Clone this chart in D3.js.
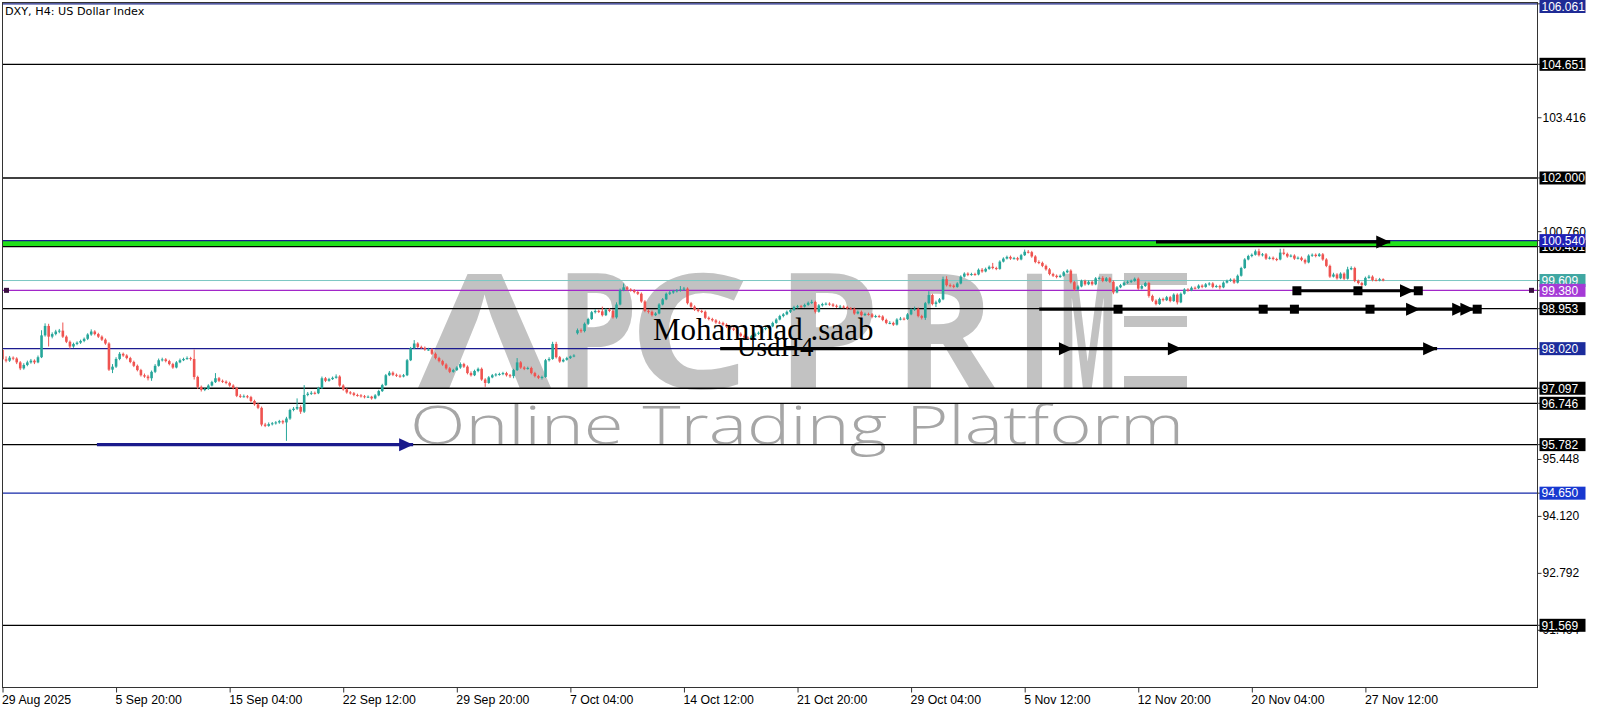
<!DOCTYPE html>
<html><head><meta charset="utf-8">
<script src="https://cdn.jsdelivr.net/npm/d3@7"></script>
<style>body{margin:0;background:#fff;overflow:hidden}svg{display:block}</style>
</head><body>
<svg id="chart" width="1600" height="711"></svg>
<script>
// ---------- DATA ----------
const candles = [
[97.99,98.14,97.72,97.77],[97.77,97.84,97.70,97.74],[97.74,97.85,97.71,97.81],[97.81,97.84,97.75,97.79],[97.79,97.82,97.66,97.70],
[97.70,97.73,97.52,97.56],[97.56,97.68,97.53,97.64],[97.64,97.74,97.61,97.70],[97.70,97.78,97.67,97.74],[97.74,97.77,97.66,97.70],
[97.70,97.86,97.68,97.82],[97.82,98.45,97.80,98.33],[98.33,98.61,98.30,98.55],[98.55,98.60,98.07,98.30],[98.30,98.40,98.26,98.36],
[98.36,98.46,98.33,98.42],[98.42,98.48,98.38,98.44],[98.44,98.63,98.27,98.30],[98.30,98.33,98.15,98.18],[98.18,98.21,98.02,98.07],
[98.07,98.16,98.04,98.13],[98.13,98.19,98.10,98.16],[98.16,98.23,98.13,98.20],[98.20,98.28,98.17,98.25],[98.25,98.38,98.22,98.35],
[98.35,98.47,98.32,98.42],[98.42,98.45,98.33,98.36],[98.36,98.39,98.27,98.30],[98.30,98.33,98.20,98.23],[98.23,98.26,98.11,98.14],
[98.14,98.17,97.50,97.53],[97.53,97.66,97.45,97.60],[97.60,97.82,97.57,97.78],[97.78,97.94,97.75,97.90],[97.90,97.93,97.83,97.86],
[97.86,97.89,97.77,97.80],[97.80,97.83,97.68,97.71],[97.71,97.74,97.59,97.62],[97.62,97.65,97.49,97.52],[97.52,97.55,97.37,97.40],
[97.40,97.44,97.34,97.37],[97.37,97.41,97.28,97.33],[97.33,97.51,97.27,97.48],[97.48,97.66,97.45,97.62],[97.62,97.79,97.60,97.75],
[97.75,97.81,97.72,97.77],[97.77,97.80,97.70,97.73],[97.73,97.76,97.63,97.66],[97.66,97.69,97.55,97.58],[97.58,97.73,97.56,97.70],
[97.70,97.79,97.68,97.75],[97.75,97.81,97.73,97.78],[97.78,97.84,97.76,97.80],[97.80,97.83,97.74,97.78],[97.78,98.00,97.30,97.36],
[97.36,97.39,97.08,97.13],[97.13,97.16,97.02,97.06],[97.06,97.11,97.03,97.08],[97.08,97.19,97.06,97.16],[97.16,97.27,97.14,97.24],
[97.24,97.45,97.22,97.33],[97.33,97.36,97.24,97.27],[97.27,97.30,97.22,97.25],[97.25,97.28,97.19,97.22],[97.22,97.25,97.13,97.16],
[97.16,97.19,97.07,97.10],[97.10,97.13,96.89,96.92],[96.92,96.96,96.87,96.90],[96.90,96.95,96.88,96.91],[96.91,96.94,96.86,96.89],
[96.89,96.92,96.77,96.80],[96.80,96.83,96.69,96.72],[96.72,96.75,96.61,96.64],[96.64,96.67,96.21,96.25],[96.25,96.29,96.19,96.22],
[96.22,96.30,96.20,96.26],[96.26,96.31,96.23,96.28],[96.28,96.33,96.25,96.30],[96.30,96.36,96.27,96.33],[96.33,96.36,96.26,96.30],
[96.30,96.43,95.87,96.39],[96.39,96.62,96.36,96.59],[96.59,96.66,96.56,96.62],[96.62,96.86,96.59,96.66],[96.66,96.70,96.50,96.55],
[96.55,97.17,96.52,96.94],[96.94,97.01,96.91,96.97],[96.97,97.03,96.94,96.99],[96.99,97.02,96.95,96.98],[96.98,97.13,96.96,97.10],
[97.10,97.37,97.08,97.33],[97.33,97.36,97.24,97.27],[97.27,97.34,97.25,97.31],[97.31,97.37,97.29,97.34],[97.34,97.42,97.32,97.37],
[97.37,97.40,97.13,97.16],[97.16,97.19,97.04,97.07],[97.07,97.10,96.97,97.00],[97.00,97.03,96.95,96.98],[96.98,97.01,96.91,96.94],
[96.94,96.97,96.90,96.93],[96.93,96.96,96.88,96.91],[96.91,96.94,96.86,96.89],[96.89,96.93,96.87,96.90],[96.90,96.92,96.83,96.86],
[96.86,96.96,96.84,96.93],[96.93,97.06,96.91,97.03],[97.03,97.20,97.01,97.17],[97.17,97.43,97.15,97.40],[97.40,97.50,97.38,97.46],
[97.46,97.49,97.38,97.41],[97.41,97.44,97.36,97.39],[97.39,97.42,97.34,97.37],[97.37,97.43,97.35,97.40],[97.40,97.78,97.38,97.75],
[97.75,98.06,97.73,98.03],[98.03,98.22,98.01,98.14],[98.14,98.17,98.03,98.06],[98.06,98.09,98.01,98.04],[98.04,98.07,97.97,98.00],
[98.00,98.04,97.97,98.00],[98.00,98.03,97.87,97.90],[97.90,97.93,97.77,97.80],[97.80,97.83,97.70,97.73],[97.73,97.76,97.62,97.65],
[97.65,97.68,97.53,97.56],[97.56,97.59,97.45,97.48],[97.48,97.55,97.46,97.52],[97.52,97.61,97.50,97.58],[97.58,97.70,97.55,97.66],
[97.66,97.69,97.57,97.60],[97.60,97.63,97.42,97.45],[97.45,97.49,97.37,97.40],[97.40,97.53,97.38,97.50],[97.50,97.58,97.47,97.55],
[97.55,97.58,97.27,97.30],[97.30,97.33,97.13,97.22],[97.22,97.38,97.20,97.35],[97.35,97.43,97.33,97.40],[97.40,97.45,97.37,97.42],
[97.42,97.46,97.39,97.43],[97.43,97.48,97.40,97.45],[97.45,97.48,97.37,97.40],[97.40,97.43,97.34,97.38],[97.38,97.55,97.33,97.52],
[97.52,97.80,97.50,97.70],[97.70,97.73,97.55,97.58],[97.58,97.61,97.52,97.55],[97.55,97.60,97.53,97.57],[97.57,97.60,97.42,97.45],
[97.45,97.48,97.35,97.38],[97.38,97.41,97.31,97.34],[97.34,97.39,97.30,97.36],[97.36,97.78,97.34,97.75],[97.75,97.82,97.72,97.78],
[97.78,98.18,97.76,98.13],[98.13,98.18,97.79,97.82],[97.82,97.85,97.69,97.72],[97.72,97.79,97.70,97.76],[97.76,97.83,97.74,97.80],
[97.80,97.86,97.78,97.84],[97.84,97.89,97.82,97.86],[98.38,98.49,98.35,98.45],[98.45,98.49,98.39,98.43],[98.43,98.63,98.40,98.60],
[98.60,98.74,98.57,98.71],[98.71,98.90,98.69,98.87],[98.87,98.94,98.84,98.90],[98.90,98.93,98.85,98.89],[98.89,99.00,98.77,98.80],
[98.80,98.96,98.78,98.93],[98.93,98.96,98.87,98.90],[98.90,98.93,98.72,98.75],[98.75,99.10,98.72,99.05],[99.05,99.42,99.03,99.38],
[99.38,99.54,99.36,99.45],[99.45,99.48,99.37,99.40],[99.40,99.43,99.35,99.38],[99.38,99.41,99.31,99.34],[99.34,99.37,99.27,99.30],
[99.30,99.33,99.09,99.12],[99.12,99.15,98.87,98.90],[98.90,98.94,98.84,98.88],[98.88,98.91,98.77,98.80],[98.80,98.87,98.78,98.84],
[98.84,99.08,98.82,99.05],[99.05,99.20,99.03,99.17],[99.17,99.33,99.15,99.30],[99.30,99.37,99.27,99.33],[99.33,99.39,99.30,99.36],
[99.36,99.41,99.33,99.38],[99.38,99.48,99.35,99.40],[99.40,99.46,99.37,99.42],[99.42,99.45,99.05,99.08],[99.08,99.11,98.97,99.00],
[99.00,99.03,98.90,98.93],[98.93,98.96,98.87,98.90],[98.90,98.93,98.85,98.88],[98.88,98.91,98.71,98.74],[98.74,98.77,98.68,98.71],
[98.71,98.74,98.65,98.68],[98.68,98.71,98.60,98.63],[98.63,98.67,98.59,98.62],[98.62,98.65,98.55,98.58],[98.58,98.61,98.50,98.53],
[98.53,98.56,98.46,98.49],[98.49,98.52,98.43,98.46],[98.46,98.49,98.34,98.37],[98.37,98.40,98.29,98.32],[98.32,98.35,98.25,98.28],
[98.28,98.31,98.22,98.25],[98.25,98.34,98.23,98.31],[98.31,98.40,98.29,98.37],[98.37,98.42,98.34,98.39],[98.39,98.51,98.37,98.48],
[98.48,98.53,98.45,98.50],[98.50,98.57,98.48,98.54],[98.54,98.65,98.52,98.62],[98.62,98.73,98.60,98.70],[98.70,98.81,98.68,98.78],
[98.78,98.85,98.75,98.82],[98.82,98.91,98.80,98.88],[98.88,98.95,98.85,98.92],[98.92,99.02,98.90,98.99],[98.99,99.04,98.96,99.01],
[99.01,99.04,98.97,99.00],[99.00,99.07,98.98,99.04],[99.04,99.12,99.02,99.09],[99.09,99.16,99.06,99.11],[99.11,99.14,98.84,98.88],
[98.88,99.06,98.86,99.03],[99.03,99.09,99.00,99.06],[99.06,99.10,99.03,99.07],[99.07,99.10,99.02,99.05],[99.05,99.08,98.99,99.02],
[99.02,99.05,98.97,99.00],[99.00,99.04,98.97,99.00],[99.00,99.03,98.96,98.99],[98.99,99.02,98.93,98.96],[98.96,98.99,98.92,98.95],
[98.95,98.98,98.81,98.84],[98.84,98.91,98.82,98.88],[98.88,98.91,98.77,98.80],[98.80,98.86,98.78,98.83],[98.83,98.86,98.79,98.82],
[98.82,98.85,98.73,98.76],[98.76,98.81,98.74,98.78],[98.78,98.81,98.74,98.77],[98.77,98.80,98.66,98.69],[98.69,98.72,98.59,98.62],
[98.62,98.66,98.59,98.62],[98.62,98.65,98.55,98.58],[98.58,98.73,98.56,98.70],[98.70,98.76,98.68,98.72],[98.72,98.75,98.68,98.71],
[98.71,98.85,98.69,98.82],[98.82,98.96,98.80,98.93],[98.93,99.00,98.90,98.95],[98.95,98.98,98.75,98.78],[98.78,98.81,98.70,98.74],
[98.74,99.11,98.69,99.08],[99.08,99.36,99.05,99.27],[99.27,99.30,99.03,99.06],[99.06,99.14,98.99,99.10],[99.10,99.20,99.08,99.17],
[99.17,99.70,99.15,99.64],[99.64,99.71,99.47,99.50],[99.50,99.54,99.45,99.49],[99.49,99.52,99.43,99.46],[99.46,99.57,99.44,99.54],
[99.54,99.73,99.52,99.70],[99.70,99.80,99.68,99.77],[99.77,99.80,99.71,99.74],[99.74,99.79,99.72,99.76],[99.76,99.79,99.72,99.75],
[99.75,99.89,99.73,99.86],[99.86,99.90,99.79,99.82],[99.82,99.91,99.80,99.88],[99.88,99.96,99.86,99.93],[99.93,100.02,99.87,99.90],
[99.90,99.93,99.85,99.88],[99.88,100.08,99.86,100.05],[100.05,100.15,100.03,100.12],[100.12,100.19,100.10,100.16],[100.16,100.19,100.09,100.12],
[100.12,100.16,100.10,100.13],[100.13,100.16,100.07,100.10],[100.10,100.23,100.08,100.20],[100.20,100.33,100.18,100.28],[100.28,100.32,100.24,100.27],
[100.27,100.30,100.14,100.17],[100.17,100.20,100.01,100.04],[100.04,100.08,99.99,100.02],[100.02,100.05,99.92,99.95],[99.95,99.98,99.84,99.87],
[99.87,99.90,99.73,99.76],[99.76,99.79,99.69,99.72],[99.72,99.75,99.66,99.69],[99.69,99.75,99.67,99.72],[99.72,99.83,99.70,99.80],
[99.80,99.87,99.78,99.84],[99.84,99.87,99.54,99.57],[99.57,99.60,99.37,99.40],[99.40,99.50,99.38,99.47],[99.47,99.63,99.45,99.60],
[99.60,99.63,99.49,99.52],[99.52,99.61,99.50,99.58],[99.58,99.61,99.49,99.52],[99.52,99.69,99.50,99.66],[99.66,99.70,99.63,99.67],
[99.67,99.71,99.57,99.60],[99.60,99.69,99.58,99.66],[99.66,99.69,99.55,99.58],[99.58,99.61,99.29,99.33],[99.33,99.48,99.31,99.45],
[99.45,99.53,99.43,99.50],[99.50,99.59,99.48,99.56],[99.56,99.61,99.53,99.58],[99.58,99.63,99.55,99.60],[99.60,99.68,99.58,99.65],
[99.65,99.68,99.39,99.42],[99.42,99.51,99.40,99.48],[99.48,99.58,99.46,99.55],[99.55,99.58,99.21,99.25],[99.25,99.28,99.11,99.14],
[99.14,99.17,99.03,99.06],[99.06,99.21,99.04,99.18],[99.18,99.21,99.12,99.15],[99.15,99.25,99.13,99.22],[99.22,99.25,99.10,99.13],
[99.13,99.31,99.11,99.28],[99.28,99.31,99.05,99.10],[99.10,99.33,99.08,99.30],[99.30,99.43,99.28,99.40],[99.40,99.43,99.35,99.38],
[99.38,99.47,99.36,99.44],[99.44,99.47,99.40,99.43],[99.43,99.52,99.41,99.49],[99.49,99.52,99.43,99.46],[99.46,99.55,99.44,99.52],
[99.52,99.57,99.49,99.54],[99.54,99.57,99.43,99.46],[99.46,99.51,99.44,99.48],[99.48,99.51,99.40,99.45],[99.45,99.59,99.43,99.56],
[99.56,99.63,99.54,99.60],[99.60,99.66,99.58,99.63],[99.63,99.66,99.53,99.56],[99.56,99.75,99.54,99.72],[99.72,99.93,99.70,99.90],
[99.90,100.13,99.88,100.10],[100.10,100.21,100.08,100.18],[100.18,100.24,100.15,100.21],[100.21,100.33,100.19,100.29],[100.29,100.35,100.17,100.20],
[100.20,100.25,100.17,100.22],[100.22,100.25,100.09,100.12],[100.12,100.17,100.10,100.14],[100.14,100.17,100.08,100.11],[100.11,100.14,100.06,100.10],
[100.10,100.35,100.08,100.26],[100.26,100.35,100.20,100.23],[100.23,100.26,100.14,100.17],[100.17,100.22,100.15,100.19],[100.19,100.22,100.09,100.12],
[100.12,100.17,100.10,100.14],[100.14,100.17,100.06,100.09],[100.09,100.12,99.99,100.03],[100.03,100.22,100.01,100.19],[100.19,100.24,100.16,100.21],
[100.21,100.24,100.15,100.18],[100.18,100.25,100.16,100.22],[100.22,100.25,100.07,100.10],[100.10,100.13,99.92,99.95],[99.95,99.98,99.67,99.70],
[99.70,99.79,99.68,99.75],[99.75,99.78,99.63,99.66],[99.66,99.80,99.64,99.77],[99.77,99.80,99.62,99.65],[99.65,99.93,99.63,99.87],
[99.87,99.94,99.85,99.90],[99.90,99.93,99.57,99.60],[99.60,99.63,99.52,99.55],[99.55,99.58,99.47,99.50],[99.50,99.70,99.48,99.67],
[99.67,99.74,99.65,99.70],[99.70,99.73,99.59,99.62],[99.62,99.66,99.59,99.61],[99.61,99.67,99.59,99.64],[99.64,99.66,99.59,99.61]
];

const timeTickBars   = [0, 32, 64, 96, 128, 160, 192, 224, 256, 288, 320, 352, 384];
const timeTickLabels = ["29 Aug 2025","5 Sep 20:00","15 Sep 04:00","22 Sep 12:00","29 Sep 20:00","7 Oct 04:00",
  "14 Oct 12:00","21 Oct 20:00","29 Oct 04:00","5 Nov 12:00","12 Nov 20:00","20 Nov 04:00","27 Nov 12:00"];

const priceTicks = [103.416, 100.760, 95.448, 94.120, 92.792, 91.464];

// horizontal levels: price, line colour, label background
const levelPrices = [106.061, 104.651, 102.000, 100.401, 100.540, 99.609, 99.380, 98.953, 98.020, 97.097, 96.746, 95.782, 94.650, 91.569];
const levelColors = ["#1b2483","#000000","#000000","#000000","#1b1b8f","#7cc8c4","#a227c9","#000000","#1b1b8f","#000000","#000000","#000000","#1428a8","#000000"];
const levelLabelBg = ["#1f2b95","#000000","#000000","#000000","#2121b5","#3fa7a2","#a53ad6","#000000","#1c2c9c","#000000","#000000","#000000","#1838d0","#000000"];
const levelWidths = [1.3,1.3,1.3,1.3,1.3,1,1.4,1.3,1.3,1.3,1.3,1.3,1.3,1.3];

// green zone between two prices
const zoneTop = 100.540, zoneBottom = 100.401;

// arrowed lines: price, start bar, end bar, colour, arrowhead bars, square bars
const arrowPrices = [100.51, 99.37, 98.94, 98.02, 95.78];
const arrowStart  = [325.0, 364.7, 292.1, 202.2, 26.6];
const arrowEnd    = [391.0, 398.9, 416.6, 404.2, 115.7];
const arrowColor  = ["#000","#000","#000","#000","#1a1a8c"];
const arrowHeads  = [[391.0],[397.7],[399.4,412.4,414.7],[301.6,332.3,404.2],[115.7]];
const arrowSquares= [[],[364.7,381.9,398.9],[314.3,355.2,364.0,385.3,415.5],[],[]];

// watermark letters and their horizontal extents
const wmLetters = ["Λ","P","C","P","R","I","M"];
const wmLeft    = [418, 556, 628, 776, 894, 1018, 1058];
const wmRight   = [551, 638, 750, 880, 995, 1051, 1118];

// ---------- DRAW ----------
const svg = d3.select("#chart");
const plotL = 2.5, plotR = 1537.5, plotT = 2.5, plotB = 687.5;

const x = d3.scaleLinear().domain([0, 384]).range([2.5, 1365.4]);
const y = d3.scaleLinear().domain([91.569, 104.651]).range([625.3, 64.3]);

svg.append("rect").attr("width",1600).attr("height",711).attr("fill","#fff");

svg.append("defs").append("clipPath").attr("id","plotclip")
  .append("rect").attr("x",plotL).attr("y",plotT).attr("width",plotR-plotL).attr("height",plotB-plotT);

const plot = svg.append("g").attr("clip-path","url(#plotclip)");

// watermark
const wm = plot.append("g");
wmLetters.forEach((ch,i)=>{
  wm.append("text").attr("x",wmLeft[i]).attr("y",388)
    .attr("font-family","'Open Sans', sans-serif").attr("font-weight",700)
    .attr("font-size",160).attr("fill","#c2c2c2")
    .attr("textLength",wmRight[i]-wmLeft[i]).attr("lengthAdjust","spacingAndGlyphs")
    .text(ch);
});
// stylised "E" as three bars
[[273,285],[316,327],[376,388]].forEach(b=>{
  wm.append("rect").attr("x",1124).attr("y",b[0]).attr("width",63).attr("height",b[1]-b[0]).attr("fill","#c2c2c2");
});
wm.append("text").attr("x",410).attr("y",444)
  .attr("font-family","'Open Sans', sans-serif").attr("font-weight",300)
  .attr("font-size",54).attr("fill","#a6a6a6")
  .attr("textLength",774).attr("lengthAdjust","spacingAndGlyphs")
  .text("Online Trading Platform");

// green zone
plot.append("rect").attr("x",plotL).attr("width",plotR-plotL)
  .attr("y",y(zoneTop)).attr("height",y(zoneBottom)-y(zoneTop)).attr("fill","#22e01a");

// level lines
levelPrices.forEach((p,i)=>{
  plot.append("line").attr("x1",plotL).attr("x2",plotR)
    .attr("y1",y(p)).attr("y2",y(p))
    .attr("stroke",levelColors[i]).attr("stroke-width",levelWidths[i]);
});
// purple line end markers
[plotL+4, plotR-6].forEach(px=>{
  plot.append("rect").attr("x",px-2.5).attr("y",y(99.380)-2.5).attr("width",5).attr("height",5).attr("fill","#3a1040");
});

// candles
const bw = 2.6;
const cg = plot.append("g");
candles.forEach((c,i)=>{
  const [o,h,l,cl] = c;
  const up = cl >= o;
  const col = up ? "#26a69a" : "#ef5350";
  const cx = x(i);
  cg.append("line").attr("x1",cx).attr("x2",cx).attr("y1",y(h)).attr("y2",y(l))
    .attr("stroke",col).attr("stroke-width",1);
  const top = y(Math.max(o,cl)), bot = y(Math.min(o,cl));
  cg.append("rect").attr("x",cx-bw/2).attr("y",top).attr("width",bw)
    .attr("height",Math.max(1,bot-top)).attr("fill",col);
});

// texts
plot.append("text").attr("x",653).attr("y",340)
  .attr("font-family","'Liberation Serif', serif").attr("font-size",31).attr("fill","#000")
  .text("Mohammad .saab");
plot.append("text").attr("x",737).attr("y",356)
  .attr("font-family","'Liberation Serif', serif").attr("font-size",27).attr("fill","#000")
  .text("UsdH4");

// arrowed lines
arrowPrices.forEach((p,i)=>{
  const yy = y(p), col = arrowColor[i];
  plot.append("line").attr("x1",x(arrowStart[i])).attr("x2",x(arrowEnd[i]))
    .attr("y1",yy).attr("y2",yy).attr("stroke",col).attr("stroke-width",3.2);
  arrowHeads[i].forEach(b=>{
    const tx = x(b);
    plot.append("path").attr("d",`M${tx},${yy} L${tx-14},${yy-6.5} L${tx-14},${yy+6.5} Z`).attr("fill",col);
  });
  arrowSquares[i].forEach(b=>{
    const sx = x(b);
    plot.append("rect").attr("x",sx-4.5).attr("y",yy-4.5).attr("width",9).attr("height",9).attr("fill",col);
  });
});

// title
svg.append("text").attr("x",5).attr("y",15).attr("font-family","'DejaVu Sans', sans-serif")
  .attr("font-size",11.2).attr("fill","#000").text("DXY, H4:  US Dollar Index");

// frame
svg.append("rect").attr("x",plotL).attr("y",plotT).attr("width",plotR-plotL).attr("height",plotB-plotT)
  .attr("fill","none").attr("stroke","#333").attr("stroke-width",1);

// bottom time axis
const xAxis = d3.axisBottom(x).tickValues(timeTickBars).tickSize(5).tickSizeOuter(0)
  .tickFormat((d,i)=>timeTickLabels[i]);
const gx = svg.append("g").attr("transform",`translate(0,${plotB})`).call(xAxis);
gx.select(".domain").remove();
gx.selectAll(".tick line").attr("stroke","#333");
gx.selectAll(".tick text").attr("text-anchor","start").attr("dx",-1).attr("y",8)
  .attr("font-family","'Liberation Sans', Arial, sans-serif").attr("font-size",12.3).attr("fill","#000");

// right price axis
const yAxis = d3.axisRight(y).tickValues(priceTicks).tickSize(4).tickSizeOuter(0)
  .tickFormat(d3.format(".3f"));
const gy = svg.append("g").attr("transform",`translate(${plotR},0)`).call(yAxis);
gy.select(".domain").remove();
gy.selectAll(".tick line").attr("stroke","#333");
gy.selectAll(".tick text").attr("x",5)
  .attr("font-family","'Liberation Sans', Arial, sans-serif").attr("font-size",12).attr("fill","#000");

// level labels
levelPrices.forEach((p,i)=>{
  const yy = y(p);
  const by = Math.max(0, yy-6.5);
  svg.append("line").attr("x1",plotR).attr("x2",plotR+4).attr("y1",yy).attr("y2",yy).attr("stroke","#333");
  svg.append("rect").attr("x",plotR+2).attr("y",by).attr("width",46).attr("height",13).attr("fill",levelLabelBg[i]);
  svg.append("text").attr("x",plotR+4).attr("y",by+10.8)
    .attr("font-family","'Liberation Sans', Arial, sans-serif").attr("font-size",12).attr("fill","#fff")
    .text(d3.format(".3f")(p));
});
</script>
</body></html>
